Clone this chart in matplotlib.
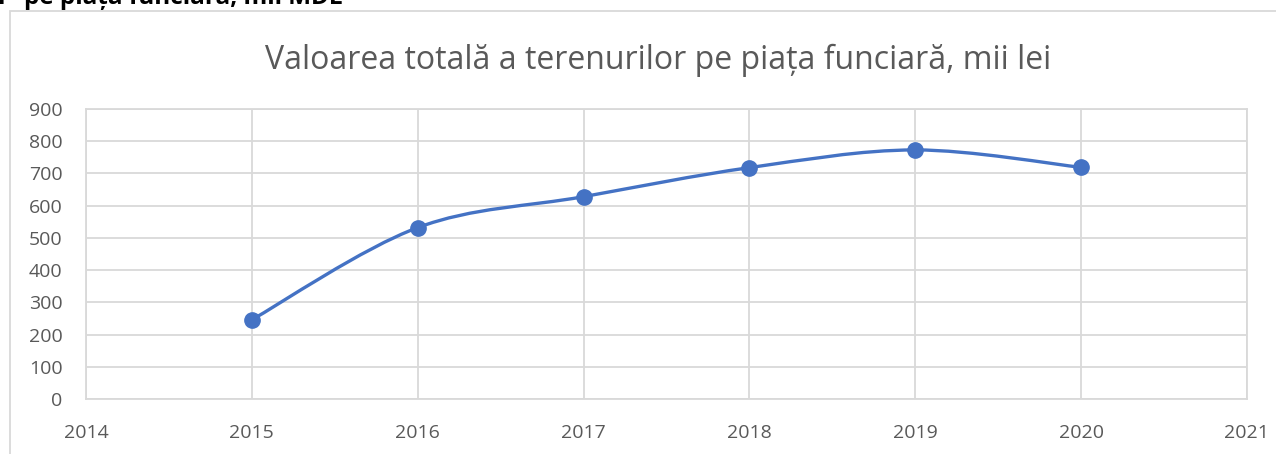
import numpy as np
import matplotlib.pyplot as plt
from matplotlib.path import Path
from matplotlib.patches import PathPatch, Rectangle

ani = [2015, 2016, 2017, 2018, 2019, 2020]
valori = [246, 532, 628, 718, 773, 719]
titlu = "Valoarea totală a terenurilor pe piața funciară, mii lei"
titlu_sus = "pe piața funciară, mii MDL"

albastru = '#4472C4'
gri_text = '#595959'
gri_linie = '#D9D9D9'

plt.rcParams['font.family'] = ['Open Sans', 'DejaVu Sans']

fig = plt.figure(figsize=(12.76, 4.54), dpi=100)
ax = fig.add_axes([0.0674, 0.1211, 0.9098, 0.6388])

# linie netezita ca in Excel (Bezier prin puncte)
x = np.array(ani, dtype=float)
y = np.array(valori, dtype=float)
xp = np.concatenate([[x[0]], x, [x[-1]]])
yp = np.concatenate([[y[0]], y, [y[-1]]])
verts = [(x[0], y[0])]
codes = [Path.MOVETO]
for i in range(1, len(x)):
    c1 = (xp[i] + (xp[i+1] - xp[i-1]) / 6, yp[i] + (yp[i+1] - yp[i-1]) / 6)
    c2 = (xp[i+1] - (xp[i+2] - xp[i]) / 6, yp[i+1] - (yp[i+2] - yp[i]) / 6)
    verts += [c1, c2, (x[i], y[i])]
    codes += [Path.CURVE4] * 3
ax.add_patch(PathPatch(Path(verts, codes), facecolor='none', edgecolor=albastru, lw=2.4, zorder=3))
ax.plot(ani, valori, 'o', color=albastru, markersize=11, zorder=4)

ax.set_xlim(2014, 2021)
ax.set_ylim(0, 900)
ax.set_xticks(range(2014, 2022))
ax.set_yticks(range(0, 901, 100))
ax.grid(True, color=gri_linie, lw=1.3)
ax.set_axisbelow(True)
for s in ax.spines.values():
    s.set_color(gri_linie)
    s.set_linewidth(1.3)
ax.tick_params(length=0, colors=gri_text, labelsize=14)
ax.tick_params(axis='y', pad=17)
ax.tick_params(axis='x', pad=18)

fig.text(0.5157, 0.868, titlu, ha='center', va='center', fontsize=23, color=gri_text)
# titlul de deasupra, taiat de marginea imaginii
fig.text(-3/1276, 1 - 4/454, "r", ha='left', va='baseline', fontsize=17.5, fontweight='bold', color='black')
fig.text(24/1276, 1 - 4/454, titlu_sus, ha='left', va='baseline', fontsize=17.5, fontweight='bold', color='black')

fig.add_artist(Rectangle((10/1276, -0.1), 1.2, 0.1 + (454 - 11) / 454, transform=fig.transFigure,
                         fill=False, edgecolor=gri_linie, lw=1.3))

fig.savefig('out.png', dpi=100)
